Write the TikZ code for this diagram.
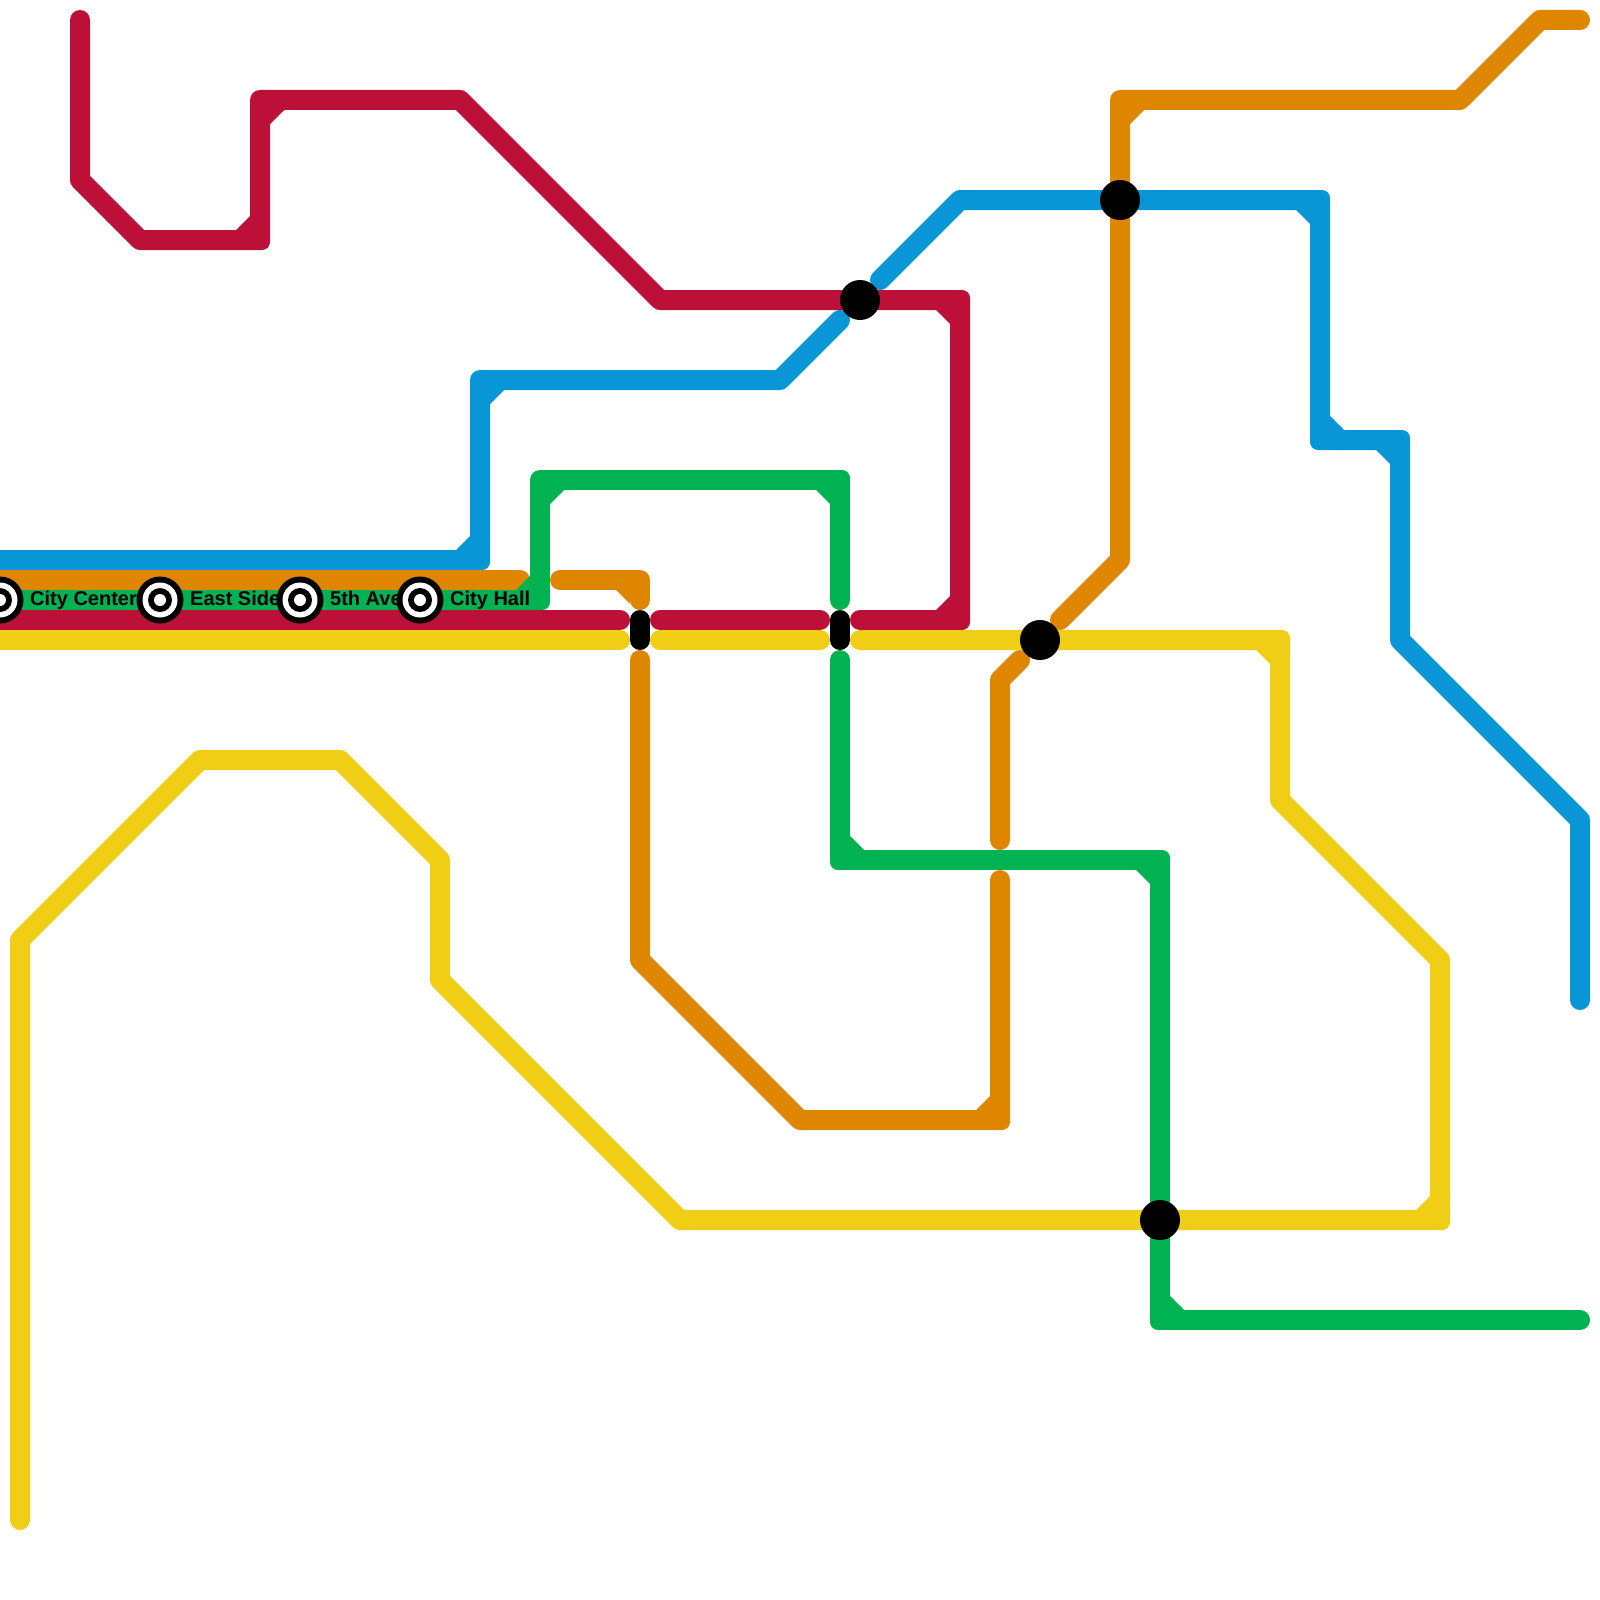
\documentclass[tikz,border=0pt]{standalone}
\usepackage{fontspec}
\setmainfont{Liberation Sans}
\usepackage{xcolor}
\usepackage{tikz}
\definecolor{MetroRed}{HTML}{BD1038}
\definecolor{MetroBlue}{HTML}{0896D7}
\definecolor{MetroOrange}{HTML}{DF8600}
\definecolor{MetroGreen}{HTML}{00B251}
\definecolor{MetroYellow}{HTML}{F0CE15}
\newcommand{\innercorners}[2]{\foreach \vx/\vy/\sx/\sy in {#2} {\fill [#1] (\vx+10*\sx,\vy+10*\sy) -- ++(14*\sx,0) -- ++(-14*\sx,14*\sy) -- cycle;}}
\newcommand{\tightcorners}[2]{\foreach \vx/\vy/\sx/\sy in {#2} {\fill [#1] (\vx,\vy) -- (\vx-10*\sx,\vy) -- (\vx-10*\sx,\vy-2*\sy) .. controls (\vx-10*\sx,\vy-6.4*\sy) and (\vx-6.4*\sx,\vy-10*\sy) .. (\vx-2*\sx,\vy-10*\sy) -- (\vx,\vy-10*\sy) -- cycle;}}

\begin{document}
\begin{tikzpicture}[x=1pt, y=-1pt]
    \tikzstyle{line} = [draw, line width=20pt, line cap=round, line join=round]
    \tikzstyle{interchange} = [circle, fill=black, inner sep=0pt, minimum size=40pt]
    \tikzstyle{crossing} = [draw=black, line width=20pt, line cap=round]
    \tikzstyle{stationname} = [anchor=base west, inner sep=0pt, font=\fontsize{20}{24}\selectfont\bfseries]

    \clip (0,0) rectangle (1600,1600);

    % blue line
    \path [line, MetroBlue] (-20,560) -- (480,560) -- (480,380) -- (780,380) -- (840,320);
    \path [line, MetroBlue] (880,280) -- (960,200) -- (1320,200) -- (1320,440) -- (1400,440) -- (1400,640) -- (1580,820) -- (1580,1000);
    \innercorners{MetroBlue}{480/560/-1/-1, 480/380/1/1, 1320/200/-1/1, 1320/440/1/-1, 1400/440/-1/1}
    \tightcorners{MetroBlue}{480/560/-1/-1, 1320/200/-1/1, 1320/440/1/-1, 1400/440/-1/1}

    % orange line
    \path [line, MetroOrange] (-20,580) -- (520,580);
    \path [line, MetroOrange] (560,580) -- (640,580) -- (640,600);
    \path [line, MetroOrange] (640,660) -- (640,960) -- (800,1120) -- (1000,1120) -- (1000,880);
    \path [line, MetroOrange] (1000,840) -- (1000,680) -- (1020,660);
    \path [line, MetroOrange] (1060,620) -- (1120,560) -- (1120,100) -- (1460,100) -- (1540,20) -- (1580,20);
    \innercorners{MetroOrange}{640/580/-1/1, 1000/1120/-1/-1, 1120/100/1/1}
    \tightcorners{MetroOrange}{1000/1120/-1/-1}

    % green line
    \path [line, MetroGreen] (-20,600) -- (540,600) -- (540,480) -- (840,480) -- (840,600);
    \path [line, MetroGreen] (840,660) -- (840,860) -- (1160,860) -- (1160,1320) -- (1580,1320);
    \innercorners{MetroGreen}{540/600/-1/-1, 540/480/1/1, 840/480/-1/1, 840/860/1/-1, 1160/860/-1/1, 1160/1320/1/-1}
    \tightcorners{MetroGreen}{540/600/-1/-1, 840/480/-1/1, 840/860/1/-1, 1160/860/-1/1, 1160/1320/1/-1}

    % red line
    \path [line, MetroRed] (80,20) -- (80,180) -- (140,240) -- (260,240) -- (260,100) -- (460,100) -- (660,300) -- (960,300) -- (960,620) -- (860,620);
    \path [line, MetroRed] (-20,620) -- (620,620);
    \path [line, MetroRed] (660,620) -- (820,620);
    \innercorners{MetroRed}{260/240/-1/-1, 260/100/1/1, 960/300/-1/1, 960/620/-1/-1}
    \tightcorners{MetroRed}{260/240/-1/-1, 960/300/-1/1, 960/620/-1/-1}

    % yellow line
    \path [line, MetroYellow] (-20,640) -- (620,640);
    \path [line, MetroYellow] (660,640) -- (820,640);
    \path [line, MetroYellow] (860,640) -- (1280,640) -- (1280,800) -- (1440,960) -- (1440,1220) -- (680,1220) -- (440,980) -- (440,860) -- (340,760) -- (200,760) -- (20,940) -- (20,1520);
    \innercorners{MetroYellow}{1280/640/-1/1, 1440/1220/-1/-1}
    \tightcorners{MetroYellow}{1280/640/-1/1, 1440/1220/-1/-1}

    % names go under the stations
    \node [stationname] (cityCenter) at (30,605) {City Center};
    \node [stationname] (eastSide) at (190,605) {East Side};
    \node [stationname] (fifthAve) at (330,605) {5th Ave};
    \node [stationname] (cityHall) at (450,605) {City Hall};

    \foreach \name/\xpos in {stA/0, stB/160, stC/300, stD/420} {
        \node [circle, fill=black, inner sep=0pt, minimum size=47pt] (\name) at (\xpos,600) {};
        \node [circle, fill=white, inner sep=0pt, minimum size=35pt] at (\name) {};
        \node [circle, fill=black, inner sep=0pt, minimum size=24pt] at (\name) {};
        \node [circle, fill=white, inner sep=0pt, minimum size=12pt] at (\name) {};
    }

    \node [interchange] (x1) at (860,300) {};
    \node [interchange] (x2) at (1120,200) {};
    \node [interchange] (x3) at (1040,640) {};
    \node [interchange] (x4) at (1160,1220) {};

    \coordinate (c1a) at (640,620);
    \coordinate (c1b) at (640,640);
    \coordinate (c2a) at (840,620);
    \coordinate (c2b) at (840,640);
    \draw [crossing] (c1a) -- (c1b);
    \draw [crossing] (c2a) -- (c2b);
\end{tikzpicture}
\end{document}
